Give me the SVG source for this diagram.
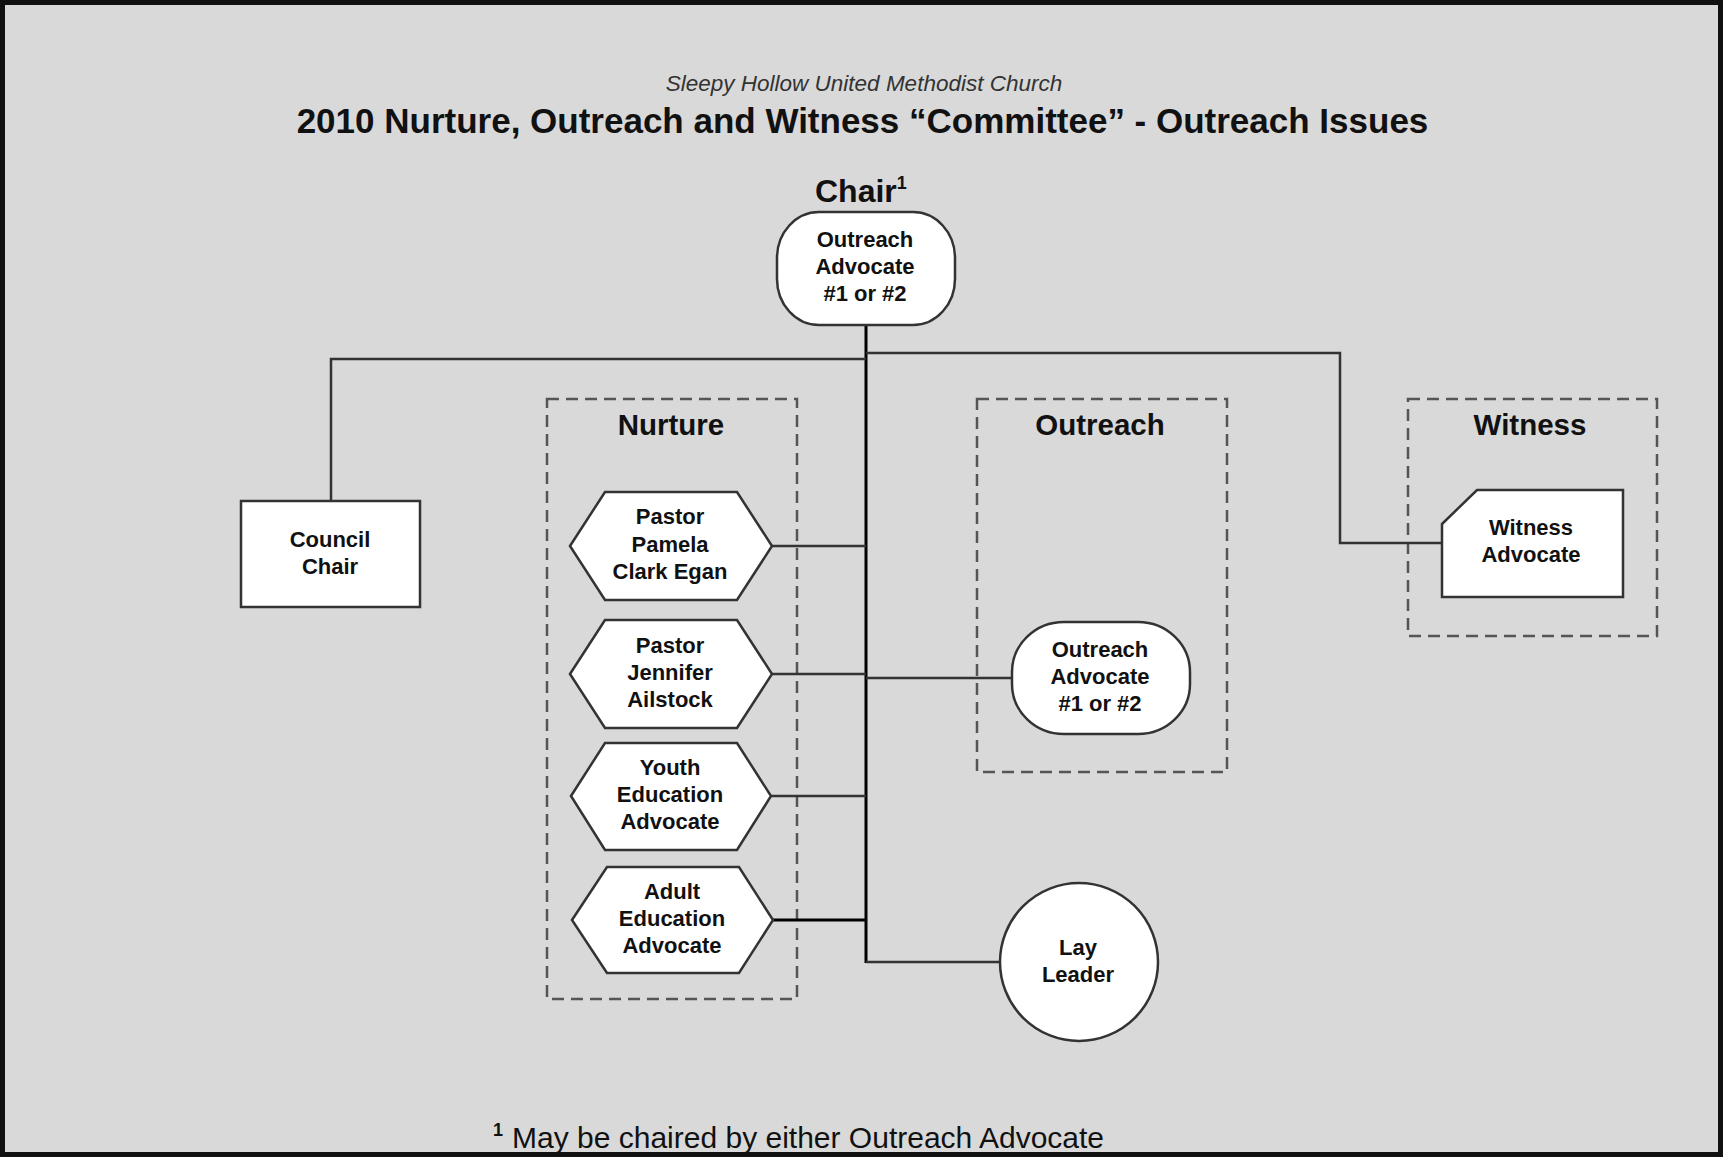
<svg xmlns="http://www.w3.org/2000/svg" width="1723" height="1157" viewBox="0 0 1723 1157">
<style>
.bg{fill:#d9d9d9;stroke:#111;stroke-width:5}
.node{fill:#fff;stroke:#333;stroke-width:2.5}
.grp{fill:none;stroke:#555;stroke-width:2.5;stroke-dasharray:12 7}
.lbl{font-family:"Liberation Sans",Arial,sans-serif;font-weight:bold;font-size:22px;fill:#111;text-anchor:middle}
.glbl{font-family:"Liberation Sans",Arial,sans-serif;font-weight:bold;font-size:29.5px;fill:#111;text-anchor:middle}
.conn{fill:none;stroke:#333;stroke-width:2.5}
.trunk{fill:none;stroke:#000;stroke-width:3}
</style>
<rect class="bg" x="2.5" y="2.5" width="1718" height="1152"/>
<text x="864" y="91" font-family="'Liberation Sans',Arial,sans-serif" font-style="italic" font-size="22.5" fill="#333" text-anchor="middle">Sleepy Hollow United Methodist Church</text>
<text x="862.5" y="133" font-family="'Liberation Sans',Arial,sans-serif" font-weight="bold" font-size="35" fill="#111" text-anchor="middle">2010 Nurture, Outreach and Witness “Committee” - Outreach Issues</text>
<text x="815" y="202" font-family="'Liberation Sans',Arial,sans-serif" font-weight="bold" font-size="32" fill="#111">Chair<tspan font-size="18" dy="-13">1</tspan></text>

<g id="groups">
<rect id="nurture-box" class="grp" x="547" y="399" width="250" height="600"/>
<text class="glbl" x="671" y="435">Nurture</text>
<rect id="outreach-box" class="grp" x="977" y="399" width="250" height="373"/>
<text class="glbl" x="1100" y="435">Outreach</text>
<rect id="witness-box" class="grp" x="1408" y="399" width="249" height="237"/>
<text class="glbl" x="1530" y="435">Witness</text>
</g>

<g id="connectors">
<path class="trunk" d="M866 325 V963"/>
<path class="conn" d="M866 359 H331 V501"/>
<path class="conn" d="M866 353 H1340 V543 H1442"/>
<path class="conn" d="M772 546 H866"/>
<path class="conn" d="M772 674 H866"/>
<path class="conn" d="M866 678 H1012"/>
<path class="conn" d="M771 796 H866"/>
<path class="trunk" d="M773 920 H866"/>
<path class="conn" d="M866 962 H1000"/>
</g>

<g id="chair">
<rect class="node" x="777" y="212" width="178" height="113" rx="42" ry="46"/>
<text class="lbl" x="865" y="247">Outreach</text>
<text class="lbl" x="865" y="274">Advocate</text>
<text class="lbl" x="865" y="301">#1 or #2</text>
</g>

<g id="council-chair">
<rect class="node" x="241" y="501" width="179" height="106"/>
<text class="lbl" x="330" y="547">Council</text>
<text class="lbl" x="330" y="574">Chair</text>
</g>

<g id="pastor-pamela">
<polygon class="node" points="570,546 605,492 737,492 772,546 737,600 605,600"/>
<text class="lbl" x="670" y="524">Pastor</text>
<text class="lbl" x="670" y="552">Pamela</text>
<text class="lbl" x="670" y="579">Clark Egan</text>
</g>

<g id="pastor-jennifer">
<polygon class="node" points="570,674 605,620 737,620 772,674 737,728 605,728"/>
<text class="lbl" x="670" y="653">Pastor</text>
<text class="lbl" x="670" y="680">Jennifer</text>
<text class="lbl" x="670" y="707">Ailstock</text>
</g>

<g id="youth-education">
<polygon class="node" points="571,796 605,743 737,743 771,796 737,850 605,850"/>
<text class="lbl" x="670" y="775">Youth</text>
<text class="lbl" x="670" y="802">Education</text>
<text class="lbl" x="670" y="829">Advocate</text>
</g>

<g id="adult-education">
<polygon class="node" points="572,920 607,867 739,867 773,920 739,973 607,973"/>
<text class="lbl" x="672" y="899">Adult</text>
<text class="lbl" x="672" y="926">Education</text>
<text class="lbl" x="672" y="953">Advocate</text>
</g>

<g id="outreach-advocate">
<rect class="node" x="1012" y="622" width="178" height="112" rx="52" ry="50"/>
<text class="lbl" x="1100" y="657">Outreach</text>
<text class="lbl" x="1100" y="684">Advocate</text>
<text class="lbl" x="1100" y="711">#1 or #2</text>
</g>

<g id="witness-advocate">
<polygon class="node" points="1442,524 1477,490 1623,490 1623,597 1442,597"/>
<text class="lbl" x="1531" y="535">Witness</text>
<text class="lbl" x="1531" y="562">Advocate</text>
</g>

<g id="lay-leader">
<circle class="node" cx="1079" cy="962" r="79"/>
<text class="lbl" x="1078" y="955">Lay</text>
<text class="lbl" x="1078" y="982">Leader</text>
</g>

<text x="493" y="1148" font-family="'Liberation Sans',Arial,sans-serif" font-size="30" fill="#111"><tspan font-size="18" font-weight="bold" dy="-12">1</tspan><tspan dy="12" dx="9">May be chaired by either Outreach Advocate</tspan></text>
</svg>
